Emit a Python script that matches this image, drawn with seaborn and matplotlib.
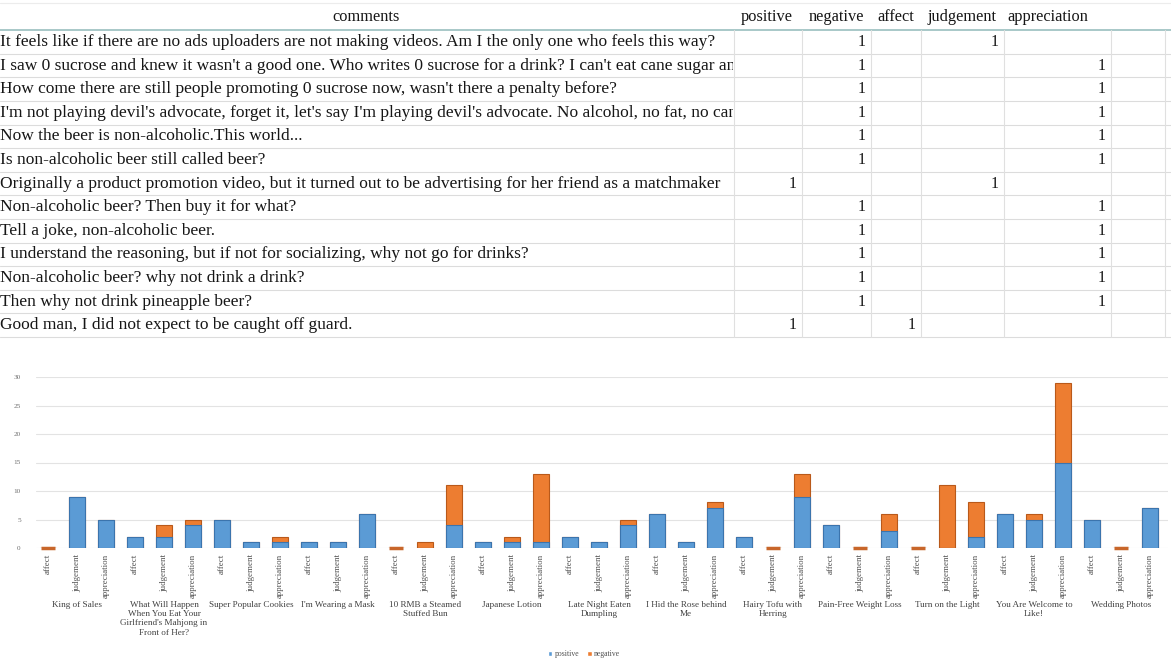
import numpy as np
import pandas as pd
import matplotlib
matplotlib.use("Agg")
import matplotlib.pyplot as plt
import seaborn as sns
from matplotlib.transforms import Bbox, TransformedBbox
from matplotlib.patches import Patch

# ---------------- comment table ----------------
comments = [
    "It feels like if there are no ads uploaders are not making videos. Am I the only one who feels this way?",
    "I saw 0 sucrose and knew it wasn't a good one. Who writes 0 sucrose for a drink? I can't eat cane sugar and need",
    "How come there are still people promoting 0 sucrose now, wasn't there a penalty before?",
    "I'm not playing devil's advocate, forget it, let's say I'm playing devil's advocate. No alcohol, no fat, no cane sugar,",
    "Now the beer is non-alcoholic.This world...",
    "Is non-alcoholic beer still called beer?",
    "Originally a product promotion video, but it turned out to be advertising for her friend as a matchmaker",
    "Non-alcoholic beer? Then buy it for what?",
    "Tell a joke, non-alcoholic beer.",
    "I understand the reasoning, but if not for socializing, why not go for drinks?",
    "Non-alcoholic beer? why not drink a drink?",
    "Then why not drink pineapple beer?",
    "Good man, I did not expect to be caught off guard.",
]
table_headers = ["positive", "negative", "affect", "judgement", "appreciation"]
col_positive = [0, 0, 0, 0, 0, 0, 1, 0, 0, 0, 0, 0, 1]
col_negative = [1, 1, 1, 1, 1, 1, 0, 1, 1, 1, 1, 1, 0]
col_affect = [0, 0, 0, 0, 0, 0, 0, 0, 0, 0, 0, 0, 1]
col_judgement = [1, 0, 0, 0, 0, 0, 1, 0, 0, 0, 0, 0, 0]
col_appreciation = [0, 1, 1, 1, 1, 1, 0, 1, 1, 1, 1, 1, 0]

# ---------------- chart data ----------------
videos = [
    "King of Sales",
    "What Will Happen\nWhen You Eat Your\nGirlfriend's Mahjong in\nFront of Her?",
    "Super Popular Cookies",
    "I'm Wearing a Mask",
    "10 RMB a Steamed\nStuffed Bun",
    "Japanese Lotion",
    "Late Night Eaten\nDumpling",
    "I Hid the Rose behind\nMe",
    "Hairy Tofu with\nHerring",
    "Pain-Free Weight Loss",
    "Turn on the Light",
    "You Are Welcome to\nLike!",
    "Wedding Photos",
]
dimensions = ["affect", "judgement", "appreciation"]
positive_counts = [0, 9, 5,  2, 2, 4,  5, 1, 1,  1, 1, 6,  0, 0, 4,  1, 1, 1,  2, 1, 4,
                   6, 1, 7,  2, 0, 9,  4, 0, 3,  0, 0, 2,  6, 5, 15,  5, 0, 7]
negative_counts = [0, 0, 0,  0, 2, 1,  0, 0, 1,  0, 0, 0,  0, 1, 7,  0, 1, 12,  0, 0, 1,
                   0, 0, 1,  0, 0, 4,  0, 0, 3,  0, 11, 6,  0, 1, 14,  0, 0, 0]

BLUE = "#5B9BD5"
ORANGE = "#ED7D31"

sns.set_theme(style="white")
plt.rcParams["font.family"] = ["Liberation Serif", "DejaVu Serif"]

W, H = 1171, 660
fig = plt.figure(figsize=(W / 100, H / 100), dpi=100)
fig.patch.set_facecolor("white")

# ---- table drawn in pixel-like units ----
ax_t = fig.add_axes([0, 1 - 360 / H, 1, 360 / H])
ax_t.set_xlim(0, W)
ax_t.set_ylim(360, 0)
ax_t.axis("off")

row0, row_h = 42.0, 23.6
header_y = 17
text_size = 12.5
text_color = "#161616"
col_edges = [734, 802, 871, 921, 1004, 1111, 1165]

# header underline and row separators
ax_t.plot([0, W], [3, 3], color="#ececec", lw=0.8)
ax_t.plot([0, W], [30, 30], color="#a8c8c8", lw=1.4)
for i in range(len(comments)):
    y = row0 + row_h * i + row_h / 2
    ax_t.plot([0, W], [y, y], color="#dcdcdc", lw=0.8)
for xe in col_edges:
    ax_t.plot([xe, xe], [30, row0 + row_h * (len(comments) - 0.5)],
              color="#e0e0e0", lw=0.8)

ax_t.text(366, header_y, "comments", ha="center", va="center",
          fontsize=11.8, color=text_color)
header_centers = [767, 836, 896, 962, 1048]
for hx, h in zip(header_centers, table_headers):
    ax_t.text(hx, header_y, h, ha="center", va="center",
              fontsize=11.8, color=text_color)

clip = TransformedBbox(Bbox([[0, 0], [col_edges[0] - 1, 360]]), ax_t.transData)
for i, c in enumerate(comments):
    t = ax_t.text(0, row0 + row_h * i, c, ha="left", va="center",
                  fontsize=text_size, color=text_color)
    t.set_clip_box(clip)
    t.set_clip_on(True)

value_cols = [col_positive, col_negative, col_affect, col_judgement, col_appreciation]
for j, col in enumerate(value_cols):
    xr = col_edges[j + 1] - 5
    for i, v in enumerate(col):
        if v:
            ax_t.text(xr, row0 + row_h * i, str(v), ha="right", va="center",
                      fontsize=11.5, color=text_color)

# ---- stacked bar chart ----
bar_ids = [f"{g}|{d}" for g in range(len(videos)) for d in dimensions]
df = pd.DataFrame({
    "bar": bar_ids,
    "dimension": dimensions * len(videos),
    "positive": positive_counts,
    "negative": negative_counts,
})
df["total"] = df["positive"] + df["negative"]

left_px, right_px, bottom_px, top_px = 36, 1168, 548, 377
ax = fig.add_axes([left_px / W, (H - bottom_px) / H,
                   (right_px - left_px) / W, (bottom_px - top_px) / H])

sns.barplot(data=df, x="bar", y="total", order=bar_ids, color=ORANGE,
            saturation=1, width=0.55, errorbar=None, ax=ax,
            edgecolor="#b9591a", linewidth=0.8)
sns.barplot(data=df, x="bar", y="positive", order=bar_ids, color=BLUE,
            saturation=1, width=0.55, errorbar=None, ax=ax,
            edgecolor="#3b74ad", linewidth=0.8)

# flat caps for empty columns
zero_idx = np.where(df["total"].to_numpy() == 0)[0]
ax.plot(zero_idx, np.zeros(len(zero_idx)), ls="none", marker="_",
        ms=10, mew=2.5, color="#c8662a", clip_on=False, zorder=5)

bar_pitch = 29.0
first_bar_px = 48
ax.set_xlim((left_px - first_bar_px) / bar_pitch,
            (right_px - first_bar_px) / bar_pitch)
ax.set_ylim(0, 30)
ax.set_yticks(range(0, 31, 5))
ax.yaxis.grid(True, color="#e3e3e3", lw=0.8)
ax.set_axisbelow(True)
for s in ax.spines.values():
    s.set_visible(False)
ax.set_xlabel("")
ax.set_ylabel("")
ax.set_xticks(range(len(bar_ids)))
ax.set_xticklabels(df["dimension"], rotation=90, fontsize=6.4, color="#505050")
ax.tick_params(axis="x", length=0, pad=4)
ax.tick_params(axis="y", length=0, pad=11, labelsize=5.2, labelcolor="#707070")

for g, name in enumerate(videos):
    ax.annotate(name, xy=(3 * g + 1, 0), xycoords=("data", "axes fraction"),
                xytext=(0, -38), textcoords="offset points",
                ha="center", va="top", fontsize=6.6, color="#404040",
                linespacing=1.22, annotation_clip=False)

handles = [Patch(facecolor=BLUE, label="positive"),
           Patch(facecolor=ORANGE, label="negative")]
fig.legend(handles=handles, loc="center", bbox_to_anchor=(584 / W, 1 - 654 / H),
           ncol=2, fontsize=5.6, frameon=False, handlelength=0.6,
           handleheight=0.6, handletextpad=0.3, columnspacing=1.0,
           labelcolor="#505050")

fig.savefig("out.png", dpi=100, facecolor="white")
